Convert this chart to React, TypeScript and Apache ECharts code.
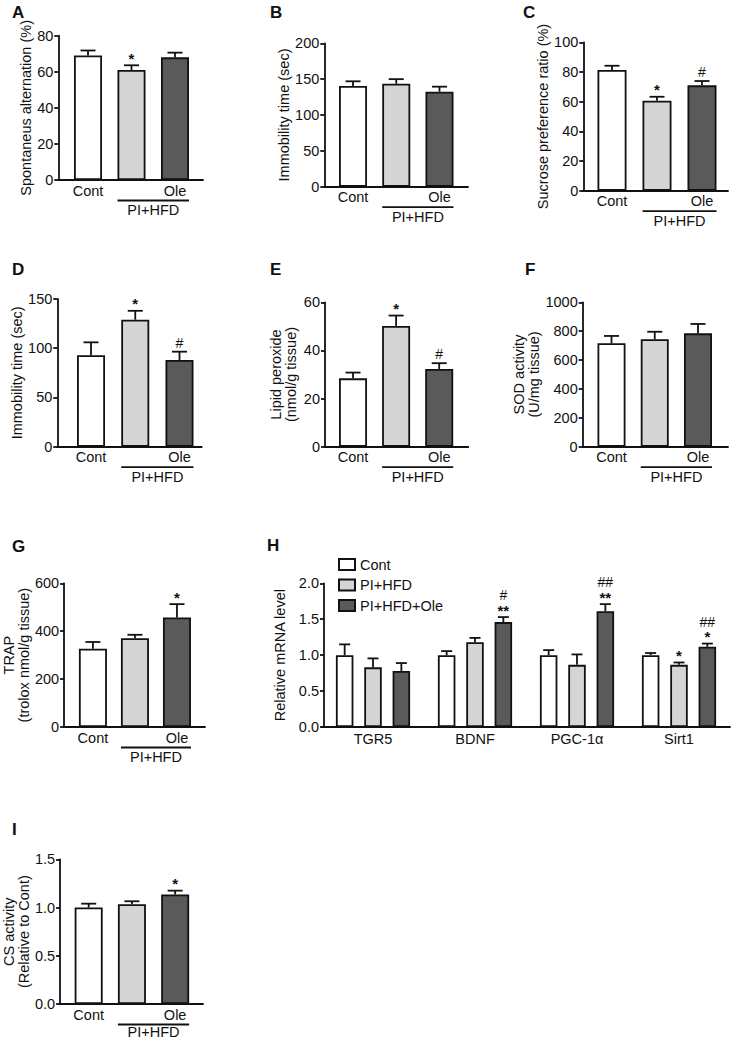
import React, { useEffect, useRef } from 'react';
import * as echarts from 'echarts';

const FONT = '"Liberation Sans", Arial, Helvetica, sans-serif';
const INK = '#111111';
const BAR_FILLS = ['#ffffff', '#d5d5d5', '#5a5a5a'];
const FS = 14.5;
const LW = 1.8;

// ---------- shared categories ----------
const groupNames = ['Cont', 'PI+HFD', 'Ole'];
const xTickLabels = ['Cont', '', 'Ole'];
const bracketLabel = 'PI+HFD';
const bracketMembers = [1, 2];

// ---------- A: Y-maze ----------
const spontValues = [69, 61, 68];
const spontErrors = [2.8, 2.6, 2.6];
const spontSig = ['', '*', ''];
const spontTicks = [0, 20, 40, 60, 80];

// ---------- B: tail suspension ----------
const tstValues = [140.5, 143.5, 132.5];
const tstErrors = [6.5, 6.5, 7];
const tstSig = ['', '', ''];
const tstTicks = [0, 50, 100, 150, 200];

// ---------- C: sucrose preference ----------
const sucroseValues = [81.3, 60.6, 71];
const sucroseErrors = [2.9, 2.7, 2.9];
const sucroseSig = ['', '*', '#'];
const sucroseTicks = [0, 20, 40, 60, 80, 100];

// ---------- D: forced swim ----------
const fstValues = [93, 129, 88];
const fstErrors = [13, 9, 8.5];
const fstSig = ['', '*', '#'];
const fstTicks = [0, 50, 100, 150];

// ---------- E: lipid peroxide ----------
const lipidValues = [28.4, 50.2, 32.3];
const lipidErrors = [2.4, 4.3, 2.4];
const lipidSig = ['', '*', '#'];
const lipidTicks = [0, 20, 40, 60];

// ---------- F: SOD ----------
const sodValues = [716, 744, 785];
const sodErrors = [51, 52, 65];
const sodSig = ['', '', ''];
const sodTicks = [0, 200, 400, 600, 800, 1000];

// ---------- G: TRAP ----------
const trapValues = [327, 371, 457];
const trapErrors = [28, 14, 56];
const trapSig = ['', '', '*'];
const trapTicks = [0, 200, 400, 600];

// ---------- I: CS activity ----------
const csValues = [1.0, 1.035, 1.135];
const csErrors = [0.04, 0.03, 0.04];
const csSig = ['', '', '*'];
const csTicks = [0, 0.5, 1.0, 1.5];

// ---------- H: mRNA ----------
const hGenes = ['TGR5', 'BDNF', 'PGC-1α', 'Sirt1'];
const hSeriesNames = ['Cont', 'PI+HFD', 'PI+HFD+Ole'];
const hContValues = [1.0, 1.0, 1.0, 1.0];
const hContErrors = [0.15, 0.056, 0.07, 0.03];
const hPiValues = [0.83, 1.18, 0.865, 0.865];
const hPiErrors = [0.125, 0.06, 0.145, 0.033];
const hOleValues = [0.78, 1.46, 1.61, 1.116];
const hOleErrors = [0.11, 0.07, 0.1, 0.045];
const hContSig = ['', '', '', ''];
const hPiSig = ['', '', '', '*'];
const hOleSig = ['', '**', '**', '*'];
const hContSig2 = ['', '', '', ''];
const hPiSig2 = ['', '', '', ''];
const hOleSig2 = ['', '#', '##', '##'];
const hTicks = [0, 0.5, 1.0, 1.5, 2.0];

type Panel = {
  letter: string; lx: number; ly: number;
  axisX: number; top: number; bottom: number; xEnd: number;
  xMin: number; xMax: number;
  ticks: number[]; dec: number;
  name: string; nameGap: number;
  values: number[]; errors: number[]; sig: string[];
  barWidth: number; bracketTextDy: number;
};

const panels: Panel[] = [
  { letter: 'A', lx: 12, ly: 4, axisX: 58.3, top: 35.7, bottom: 180, xEnd: 203, xMin: -0.683, xMax: 2.644, ticks: spontTicks, dec: 0, name: 'Spontaneus alternation (%)', nameGap: 23.5, values: spontValues, errors: spontErrors, sig: spontSig, barWidth: 28, bracketTextDy: 30 },
  { letter: 'B', lx: 270, ly: 4, axisX: 324.3, top: 43.3, bottom: 186.7, xEnd: 468, xMin: -0.664, xMax: 2.659, ticks: tstTicks, dec: 0, name: 'Immobility time (sec)', nameGap: 32.5, values: tstValues, errors: tstErrors, sig: tstSig, barWidth: 28, bracketTextDy: 30 },
  { letter: 'C', lx: 523, ly: 4, axisX: 583.3, top: 42.3, bottom: 190.7, xEnd: 728, xMin: -0.638, xMax: 2.578, ticks: sucroseTicks, dec: 0, name: 'Sucrose preference ratio (%)', nameGap: 30.5, values: sucroseValues, errors: sucroseErrors, sig: sucroseSig, barWidth: 29, bracketTextDy: 30 },
  { letter: 'D', lx: 12, ly: 261, axisX: 57.3, top: 299, bottom: 446.7, xEnd: 201.7, xMin: -0.762, xMax: 2.502, ticks: fstTicks, dec: 0, name: 'Immobility time (sec)', nameGap: 27.5, values: fstValues, errors: fstErrors, sig: fstSig, barWidth: 28, bracketTextDy: 30.5 },
  { letter: 'E', lx: 270, ly: 261, axisX: 325, top: 302.3, bottom: 446.7, xEnd: 468.3, xMin: -0.65, xMax: 2.675, ticks: lipidTicks, dec: 0, name: 'Lipid peroxide\n(nmol/g tissue)', nameGap: 27, values: lipidValues, errors: lipidErrors, sig: lipidSig, barWidth: 28, bracketTextDy: 30.5 },
  { letter: 'F', lx: 525, ly: 261, axisX: 582.7, top: 302.3, bottom: 446.7, xEnd: 728, xMin: -0.666, xMax: 2.694, ticks: sodTicks, dec: 0, name: 'SOD activity\n(U/mg tissue)', nameGap: 41.5, values: sodValues, errors: sodErrors, sig: sodSig, barWidth: 28, bracketTextDy: 30.5 },
  { letter: 'G', lx: 12, ly: 538, axisX: 60.7, top: 583.3, bottom: 727, xEnd: 205, xMin: -0.686, xMax: 2.667, ticks: trapTicks, dec: 0, name: 'TRAP\n(trolox nmol/g tissue)', nameGap: 29.5, values: trapValues, errors: trapErrors, sig: trapSig, barWidth: 28, bracketTextDy: 30 },
  { letter: 'I', lx: 12, ly: 821, axisX: 59.3, top: 859.3, bottom: 1004, xEnd: 203, xMin: -0.662, xMax: 2.644, ticks: csTicks, dec: 1, name: 'CS activity\n(Relative to Cont)', nameGap: 28, values: csValues, errors: csErrors, sig: csSig, barWidth: 28, bracketTextDy: 27.5 },
];

const isHash = (s: string) => s.indexOf('#') >= 0;

function sigText(text: string, x: number, y: number) {
  return {
    type: 'text',
    x,
    y,
    style: {
      text,
      fill: INK,
      fontFamily: FONT,
      fontSize: isHash(text) ? 14 : 15,
      lineHeight: isHash(text) ? 14 : 12,
      fontWeight: isHash(text) ? 'normal' : 'bold',
      align: 'center',
      verticalAlign: 'middle',
    },
  };
}

function makeErrorBar(sig: string[], sig2: string[] | null, capHalf: number, dx: number) {
  return (params: any, api: any) => {
    const i = params.dataIndex;
    const x = api.value(0);
    const v = api.value(1);
    const e = api.value(2);
    const base = api.coord([x, v]);
    const top = api.coord([x, v + e]);
    const cx = base[0] + dx;
    const ls = { stroke: INK, lineWidth: LW };
    const children: any[] = [
      { type: 'line', shape: { x1: cx, y1: base[1], x2: cx, y2: top[1] }, style: ls },
      { type: 'line', shape: { x1: cx - capHalf, y1: top[1], x2: cx + capHalf, y2: top[1] }, style: ls },
    ];
    const s = sig[i];
    if (s) {
      const off = isHash(s) ? 9 : 7;
      children.push(sigText(s, cx, top[1] - off));
    }
    if (sig2 && sig2[i]) {
      children.push(sigText(sig2[i], cx, top[1] - 22));
    }
    return { type: 'group', children };
  };
}

function makeBracket(barWidth: number, textDy: number) {
  return (_params: any, api: any) => {
    const p1 = api.coord([api.value(0), 0]);
    const p2 = api.coord([api.value(1), 0]);
    const y = p1[1] + 20.5;
    return {
      type: 'group',
      children: [
        { type: 'line', shape: { x1: p1[0] - barWidth / 2, y1: y, x2: p2[0] + barWidth / 2, y2: y }, style: { stroke: INK, lineWidth: LW } },
        {
          type: 'text', x: (p1[0] + p2[0]) / 2, y: p1[1] + textDy,
          style: { text: bracketLabel, fill: INK, fontFamily: FONT, fontSize: FS, lineHeight: 14, align: 'center', verticalAlign: 'middle' },
        },
      ],
    };
  };
}

function yAxisFor(i: number, ticks: number[], dec: number, name: string, nameGap: number, offset = 0) {
  return {
    gridIndex: i,
    type: 'value',
    min: 0,
    max: ticks[ticks.length - 1],
    interval: ticks[1] - ticks[0],
    offset,
    axisLine: { show: true, onZero: false, lineStyle: { color: INK, width: LW } },
    axisTick: { show: true, length: 4, lineStyle: { color: INK, width: LW } },
    splitLine: { show: false },
    axisLabel: { margin: 5, color: INK, fontSize: FS, fontFamily: FONT, formatter: (v: number) => v.toFixed(dec) },
    name,
    nameLocation: 'middle',
    nameRotate: 90,
    nameGap,
    nameTextStyle: { color: INK, fontSize: FS, fontFamily: FONT, lineHeight: 15 },
  };
}

function buildOption() {
  const grid: any[] = [];
  const xAxis: any[] = [];
  const yAxis: any[] = [];
  const series: any[] = [];
  const title: any[] = [];

  panels.forEach((p, i) => {
    grid.push({ left: p.axisX, top: p.top, width: p.xEnd - p.axisX, height: p.bottom - p.top });
    xAxis.push({
      gridIndex: i,
      type: 'value',
      min: p.xMin,
      max: p.xMax,
      axisLine: { show: true, onZero: false, lineStyle: { color: INK, width: LW } },
      axisTick: { show: false },
      splitLine: { show: false },
      axisLabel: {
        customValues: xTickLabels.map((t, k) => (t ? k : -1)).filter((k) => k >= 0),
        formatter: (v: number) => xTickLabels[Math.round(v)] || '',
        margin: 3,
        color: INK,
        fontSize: FS,
        fontFamily: FONT,
      },
    });
    yAxis.push(yAxisFor(i, p.ticks, p.dec, p.name, p.nameGap));
    title.push({
      text: p.letter, left: p.lx, top: p.ly, padding: 0,
      textStyle: { fontSize: 17, fontWeight: 'bold', color: INK, fontFamily: FONT },
    });
    series.push({
      type: 'bar',
      xAxisIndex: i,
      yAxisIndex: i,
      barWidth: p.barWidth,
      data: p.values.map((v, k) => ({ value: [k, v], name: groupNames[k], itemStyle: { color: BAR_FILLS[k] } })),
      itemStyle: { borderColor: INK, borderWidth: LW },
      z: 2,
    });
    series.push({
      type: 'custom',
      xAxisIndex: i,
      yAxisIndex: i,
      data: p.values.map((v, k) => [k, v, p.errors[k]]),
      encode: { x: 0, y: 1 },
      renderItem: makeErrorBar(p.sig, null, 7.5, 0),
      clip: false,
      z: 3,
    });
    series.push({
      type: 'custom',
      xAxisIndex: i,
      yAxisIndex: i,
      data: [[bracketMembers[0], bracketMembers[1]]],
      encode: { x: [0, 1] },
      renderItem: makeBracket(p.barWidth, p.bracketTextDy),
      clip: false,
      z: 3,
    });
  });

  // ---------- Panel H ----------
  const hi = panels.length;
  grid.push({ left: 322, top: 583.3, width: 408, height: 143.7 });
  xAxis.push({
    gridIndex: hi,
    type: 'category',
    data: hGenes,
    axisLine: { show: true, onZero: false, lineStyle: { color: INK, width: LW } },
    axisTick: { show: false },
    axisLabel: { margin: 4, color: INK, fontSize: FS, fontFamily: FONT },
  });
  yAxis.push(yAxisFor(hi, hTicks, 1, 'Relative mRNA level', 29, -2));
  title.push({
    text: 'H', left: 267, top: 537, padding: 0,
    textStyle: { fontSize: 17, fontWeight: 'bold', color: INK, fontFamily: FONT },
  });
  const hBarWidth = 17.5;
  const hGap = 0.62;
  const hVals = [hContValues, hPiValues, hOleValues];
  const hErrs = [hContErrors, hPiErrors, hOleErrors];
  const hSigs = [hContSig, hPiSig, hOleSig];
  const hSigs2 = [hContSig2, hPiSig2, hOleSig2];
  hVals.forEach((vals, s) => {
    series.push({
      type: 'bar',
      name: hSeriesNames[s],
      xAxisIndex: hi,
      yAxisIndex: hi,
      barWidth: hBarWidth,
      barGap: `${hGap * 100}%`,
      data: vals,
      itemStyle: { color: BAR_FILLS[s], borderColor: INK, borderWidth: LW },
      z: 2,
    });
  });
  hVals.forEach((vals, s) => {
    series.push({
      type: 'custom',
      xAxisIndex: hi,
      yAxisIndex: hi,
      data: vals.map((v, k) => [k, v, hErrs[s][k]]),
      encode: { x: 0, y: 1 },
      renderItem: makeErrorBar(hSigs[s], hSigs2[s], 5.5, (s - 1) * hBarWidth * (1 + hGap)),
      clip: false,
      z: 3,
    });
  });

  return {
    animation: false,
    backgroundColor: '#ffffff',
    textStyle: { fontFamily: FONT },
    title,
    legend: {
      data: hSeriesNames,
      orient: 'vertical',
      left: 338,
      top: 557,
      itemWidth: 16,
      itemHeight: 11,
      itemGap: 5.5,
      icon: 'rect',
      selectedMode: false,
      padding: 0,
      textStyle: { color: INK, fontSize: FS, fontFamily: FONT },
    },
    grid,
    xAxis,
    yAxis,
    series,
  };
}

export default function App() {
  const ref = useRef<HTMLDivElement>(null);
  useEffect(() => {
    if (!ref.current) return;
    const chart = echarts.init(ref.current, undefined, { renderer: 'svg' });
    chart.setOption(buildOption() as any);
    return () => chart.dispose();
  }, []);
  return (
    <div
      ref={ref}
      style={{ position: 'absolute', left: 0, top: 0, width: 732, height: 1039, background: '#ffffff' }}
    />
  );
}
